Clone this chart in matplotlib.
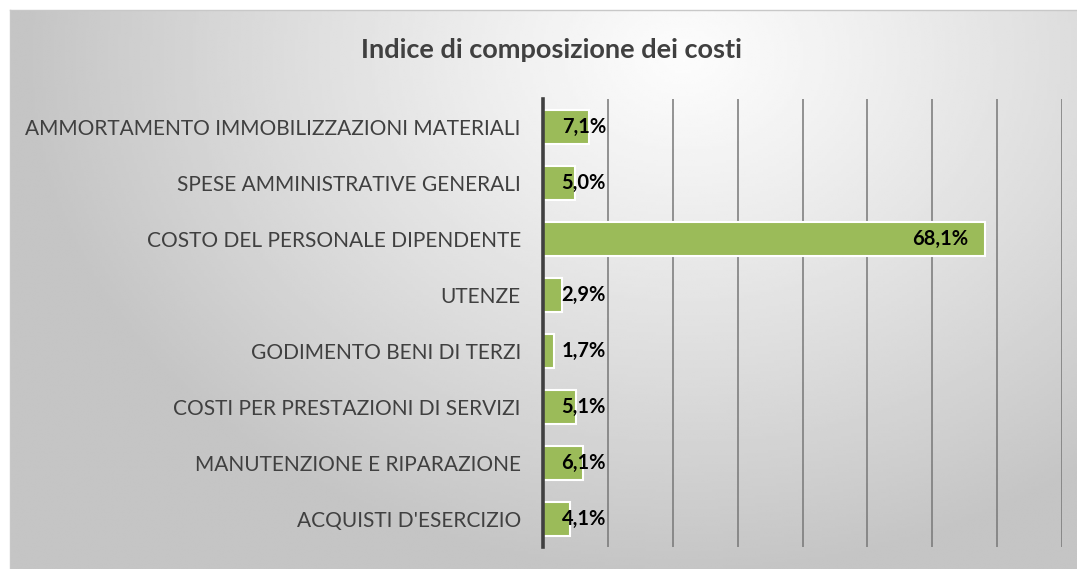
import numpy as np
import matplotlib.pyplot as plt

# --------------------------
# Data
# --------------------------
categories = [
    "ACQUISTI D'ESERCIZIO",
    "MANUTENZIONE E RIPARAZIONE",
    "COSTI PER PRESTAZIONI DI SERVIZI",
    "GODIMENTO BENI DI TERZI",
    "UTENZE",
    "COSTO DEL PERSONALE DIPENDENTE",
    "SPESE AMMINISTRATIVE GENERALI",
    "AMMORTAMENTO IMMOBILIZZAZIONI MATERIALI",
]
values = [4.1, 6.1, 5.1, 1.7, 2.9, 68.1, 5.0, 7.1]
title = "Indice di composizione dei costi"

W, H = 1077, 569
fig = plt.figure(figsize=(W / 100, H / 100), dpi=100)
fig.patch.set_facecolor("white")

# --------------------------
# Chart area background: radial grey gradient with thin border
# --------------------------
bx0, by0, bx1, by1 = 10, 10, 1080, 572
bg = fig.add_axes([bx0 / W, 1 - by1 / H, (bx1 - bx0) / W, (by1 - by0) / H])
gx, gy = np.meshgrid(np.linspace(0, 1, 400), np.linspace(0, 1, 200))
dist = np.sqrt(((gx - 0.63) / 1.0) ** 2 + ((gy - 0.08) / 1.5) ** 2)
shade = 0.99 - 0.22 * np.clip(dist / 0.62, 0, 1) ** 1.1
bg.imshow(shade, cmap="gray", vmin=0, vmax=1, aspect="auto",
          extent=[0, 1, 1, 0], interpolation="bilinear")
bg.set_xticks([])
bg.set_yticks([])
for s in bg.spines.values():
    s.set_color("#c8c8c8")
    s.set_linewidth(1.0)

# --------------------------
# Bar chart
# --------------------------
px0, py0, px1, py1 = 543, 99, 1062, 547
ax = fig.add_axes([px0 / W, 1 - py1 / H, (px1 - px0) / W, (py1 - py0) / H])
ax.patch.set_alpha(0)

y = np.arange(len(categories))
ax.barh(y, values, height=0.6, color="#9bbb59", edgecolor="white",
        linewidth=1.5, zorder=3)

ax.set_xlim(0, 80)
ax.set_ylim(-0.5, len(categories) - 0.5)
ax.set_xticks(np.arange(10, 81, 10))
ax.xaxis.grid(True, color="#777777", linewidth=1.1, zorder=1)
ax.tick_params(axis="x", length=0, labelbottom=False)
ax.tick_params(axis="y", length=0, pad=16)
ax.set_yticks(y)
ax.set_yticklabels(categories, fontsize=15, color="#404040", family="Lato")

for s in ["top", "right", "bottom"]:
    ax.spines[s].set_visible(False)
ax.spines["left"].set_color("#404040")
ax.spines["left"].set_linewidth(2.6)
ax.spines["left"].set_zorder(4)

# Labels: inside end for the long bar, clamped to a fixed box for short ones
for yi, v in zip(y, values):
    lbl = f"{v:.1f}".replace(".", ",") + "%"
    xpos = v - 2.6 if v > 20 else 9.7
    ax.text(xpos, yi, lbl, ha="right", va="center", fontsize=14.5,
            fontweight="bold", family="Lato", color="black", zorder=5)

fig.text(551 / W, 1 - 50 / H, title, ha="center", va="center",
         fontsize=19.5, fontweight="bold", color="#404040", family="Lato")

fig.savefig("out.png", dpi=100, facecolor="white")
